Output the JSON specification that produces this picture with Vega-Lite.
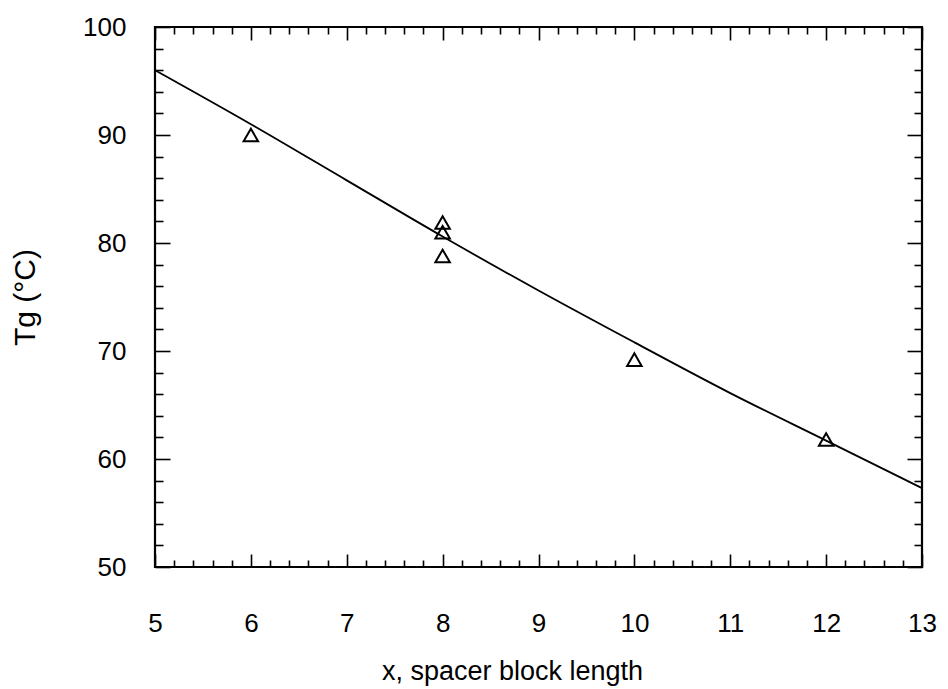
{
  "$schema": "https://vega.github.io/schema/vega-lite/v6.json",
  "autosize": "none",
  "width": 767,
  "height": 540,
  "padding": {"left": 155, "top": 27, "right": 26, "bottom": 122},
  "background": "white",
  "config": {
    "view": {"stroke": "black", "strokeWidth": 2.2},
    "font": "Liberation Sans",
    "axis": {"domain": false, "grid": false, "tickColor": "black", "tickWidth": 1.6, "labelColor": "black", "titleColor": "black", "labelFont": "Liberation Sans", "titleFont": "Liberation Sans", "titleFontWeight": "normal"}
  },
  "datasets": {
    "fit": [
      {"x": 5, "tg": 96.0},
      {"x": 6, "tg": 91.0},
      {"x": 7, "tg": 85.8},
      {"x": 8, "tg": 80.6},
      {"x": 9, "tg": 75.6},
      {"x": 10, "tg": 70.8},
      {"x": 11, "tg": 66.1},
      {"x": 12, "tg": 61.7},
      {"x": 13, "tg": 57.3}
    ],
    "obs": [
      {"x": 6, "tg": 90.0},
      {"x": 8, "tg": 81.9},
      {"x": 8, "tg": 81.0},
      {"x": 8, "tg": 78.8},
      {"x": 10, "tg": 69.2},
      {"x": 12, "tg": 61.8}
    ]
  },
  "layer": [
    {
      "data": {"name": "fit"},
      "mark": {"type": "line", "color": "black", "strokeWidth": 1.8, "interpolate": "monotone"},
      "encoding": {
        "x": {"field": "x", "type": "quantitative", "scale": {"domain": [5, 13], "nice": false, "zero": false},
          "axis": {"orient": "top", "values": [5,5.2,5.4,5.6,5.8,6,6.2,6.4,6.6,6.8,7,7.2,7.4,7.6,7.8,8,8.2,8.4,8.6,8.8,9,9.2,9.4,9.6,9.8,10,10.2,10.4,10.6,10.8,11,11.2,11.4,11.6,11.8,12,12.2,12.4,12.6,12.8,13],
            "labels": false, "title": null,
            "tickSize": {"condition": {"test": "abs(datum.value - round(datum.value)) < 0.01", "value": -13}, "value": -7}}},
        "y": {"field": "tg", "type": "quantitative", "scale": {"domain": [50, 100], "nice": false, "zero": false},
          "axis": {"orient": "right", "values": [50,52,54,56,58,60,62,64,66,68,70,72,74,76,78,80,82,84,86,88,90,92,94,96,98,100],
            "labels": false, "title": null,
            "tickSize": {"condition": {"test": "datum.value % 10 === 0", "value": -15}, "value": -8}}}
      }
    },
    {
      "data": {"name": "obs"},
      "mark": {"type": "point", "shape": "triangle-up", "filled": false, "color": "black", "opacity": 1, "strokeWidth": 2, "size": 210},
      "encoding": {
        "x": {"field": "x", "type": "quantitative",
          "axis": {"orient": "bottom", "values": [5,5.2,5.4,5.6,5.8,6,6.2,6.4,6.6,6.8,7,7.2,7.4,7.6,7.8,8,8.2,8.4,8.6,8.8,9,9.2,9.4,9.6,9.8,10,10.2,10.4,10.6,10.8,11,11.2,11.4,11.6,11.8,12,12.2,12.4,12.6,12.8,13],
            "labelExpr": "abs(datum.value - round(datum.value)) < 0.01 ? format(datum.value, 'd') : ''",
            "labelFontSize": 26, "labelPadding": 56, "labelFlush": false, "labelOverlap": false,
            "title": "x, spacer block length", "titleFontSize": 27, "titlePadding": 16, "titleX": 357,
            "tickSize": {"condition": {"test": "abs(datum.value - round(datum.value)) < 0.01", "value": -13}, "value": -7}}},
        "y": {"field": "tg", "type": "quantitative",
          "axis": {"orient": "left", "values": [50,52,54,56,58,60,62,64,66,68,70,72,74,76,78,80,82,84,86,88,90,92,94,96,98,100],
            "labelExpr": "datum.value % 10 === 0 ? datum.label : ''",
            "labelFontSize": 26, "labelPadding": 44, "labelOverlap": false, "labelFlush": false,
            "title": "Tg (°C)", "titleFontSize": 30, "titlePadding": 42,
            "tickSize": {"condition": {"test": "datum.value % 10 === 0", "value": -15}, "value": -8}}}
      }
    }
  ],
  "resolve": {"axis": {"x": "independent", "y": "independent"}}
}
